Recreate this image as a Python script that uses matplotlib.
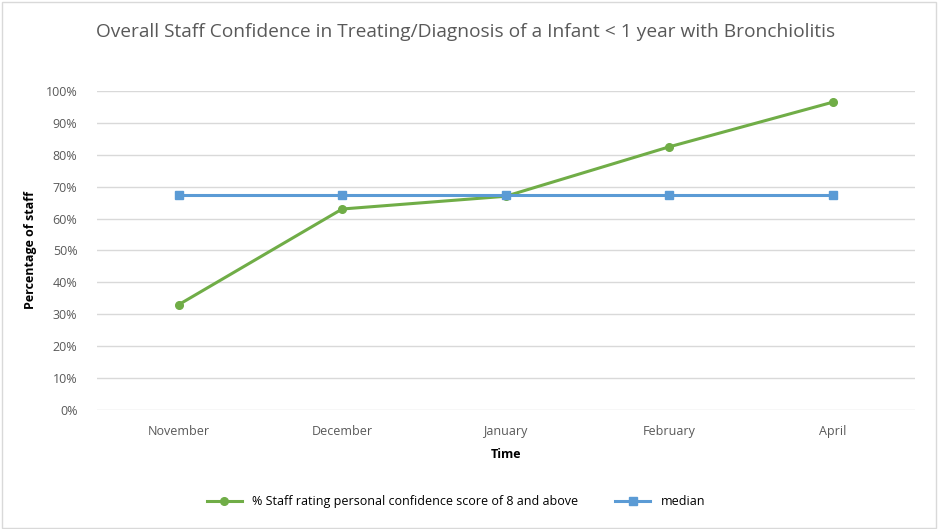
import matplotlib.pyplot as plt
from matplotlib.ticker import PercentFormatter

# chart data
months = ['November', 'December', 'January', 'February', 'April']
confidence = [33, 63, 67, 82.5, 96.5]
median = [67.5, 67.5, 67.5, 67.5, 67.5]

plt.rcParams['font.family'] = ['Open Sans', 'DejaVu Sans']

fig = plt.figure(figsize=(9.4, 5.29), dpi=100)
ax = fig.add_axes([0.103, 0.225, 0.87, 0.603])

x = range(len(months))
ax.plot(x, confidence, color='#70AD47', lw=2.2, marker='o', ms=5.5,
        label='% Staff rating personal confidence score of 8 and above')
ax.plot(x, median, color='#5B9BD5', lw=2.2, marker='s', ms=5.5,
        label='median')

ax.set_xlim(-0.5, len(months) - 0.5)
ax.set_ylim(0, 100)
ax.set_yticks(range(0, 101, 10))
ax.yaxis.set_major_formatter(PercentFormatter(decimals=0))
ax.set_xticks(list(x))
ax.set_xticklabels(months)
ax.grid(axis='y', color='#D9D9D9', lw=1)
ax.set_axisbelow(True)
for s in ax.spines.values():
    s.set_visible(False)
ax.tick_params(length=0, colors='#595959', labelsize=9)
ax.tick_params(axis='x', pad=11)
ax.tick_params(axis='y', pad=14)

ax.set_xlabel('Time', fontsize=9, fontweight='bold', labelpad=7)
ax.set_ylabel('Percentage of staff', fontsize=9, fontweight='bold', labelpad=6)

fig.text(0.495, 0.94, 'Overall Staff Confidence in Treating/Diagnosis of a Infant < 1 year with Bronchiolitis',
         ha='center', va='center', fontsize=13.8, color='#595959')

fig.legend(loc='center', bbox_to_anchor=(0.485, 0.052), ncol=2, frameon=False,
           fontsize=9, handlelength=2.8, columnspacing=3)

# thin border around the chart
fig.patches.append(plt.Rectangle((0.002, 0.002), 0.994, 0.994, transform=fig.transFigure,
                                 fill=False, edgecolor='#D9D9D9', lw=1))

fig.savefig('out.png', dpi=100)
